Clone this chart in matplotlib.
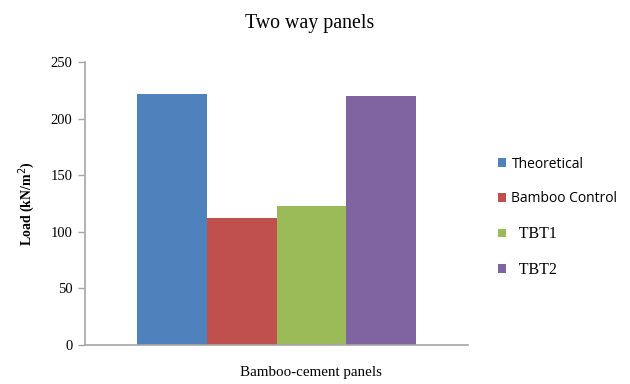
import numpy as np
import matplotlib.pyplot as plt
from matplotlib.patches import Patch
from matplotlib.font_manager import FontProperties

series = ["Theoretical", "Bamboo Control", "TBT1", "TBT2"]
loads = [221.5, 112.5, 123, 220]
colors = ["#4F81BD", "#C0504D", "#9BBB59", "#8064A2"]
category = "Bamboo-cement panels"
yticks = [0, 50, 100, 150, 200, 250]

serif = "Liberation Serif"
sans = "Open Sans"

fig = plt.figure(figsize=(6.3, 3.84), dpi=100)
ax = fig.add_axes([0.135, 0.1016, 0.608, 0.737])

width = 0.7
offsets = (np.arange(len(series)) - (len(series) - 1) / 2) * width
for off, val, col, name in zip(offsets, loads, colors, series):
    ax.bar(off, val, width=width, color=col, label=name, zorder=2)

ax.set_xlim(-1.92, 1.92)
ax.set_ylim(0, 250)
ax.set_yticks(yticks)
ax.set_yticklabels([str(t) for t in yticks], family=serif, fontsize=10.5)
ax.set_xticks([])
ax.set_ylabel("Load (kN/m$^2$)", family=serif, fontsize=10, fontweight="bold", labelpad=10)

# title and category label sit centred on the whole figure
fig.text(0.491, 0.94, "Two way panels", family=serif, fontsize=14.3,
         ha="center", va="center")
fig.text(0.494, 0.031, category, family=serif, fontsize=10.8,
         ha="center", va="center")

for s in ["top", "right"]:
    ax.spines[s].set_visible(False)
for s in ["left", "bottom"]:
    ax.spines[s].set_color("#A6A6A6")
    ax.spines[s].set_linewidth(1.2)
ax.tick_params(axis="y", color="#A6A6A6", length=5, width=1, pad=4)

handles = [Patch(facecolor=c, edgecolor="none") for c in colors]
labels = [series[0], series[1], "  " + series[2], "  " + series[3]]
leg = fig.legend(handles, labels, loc="upper left", bbox_to_anchor=(0.77, 0.625),
                 frameon=False, handlelength=0.6, handleheight=0.6,
                 handletextpad=0.4, labelspacing=1.42, fontsize=10)
fonts = [FontProperties(family=sans, size=10), FontProperties(family=sans, size=10),
         FontProperties(family=serif, size=11.5), FontProperties(family=serif, size=11.5)]
for txt, fp in zip(leg.get_texts(), fonts):
    txt.set_fontproperties(fp)

fig.savefig("out.png", dpi=100)
